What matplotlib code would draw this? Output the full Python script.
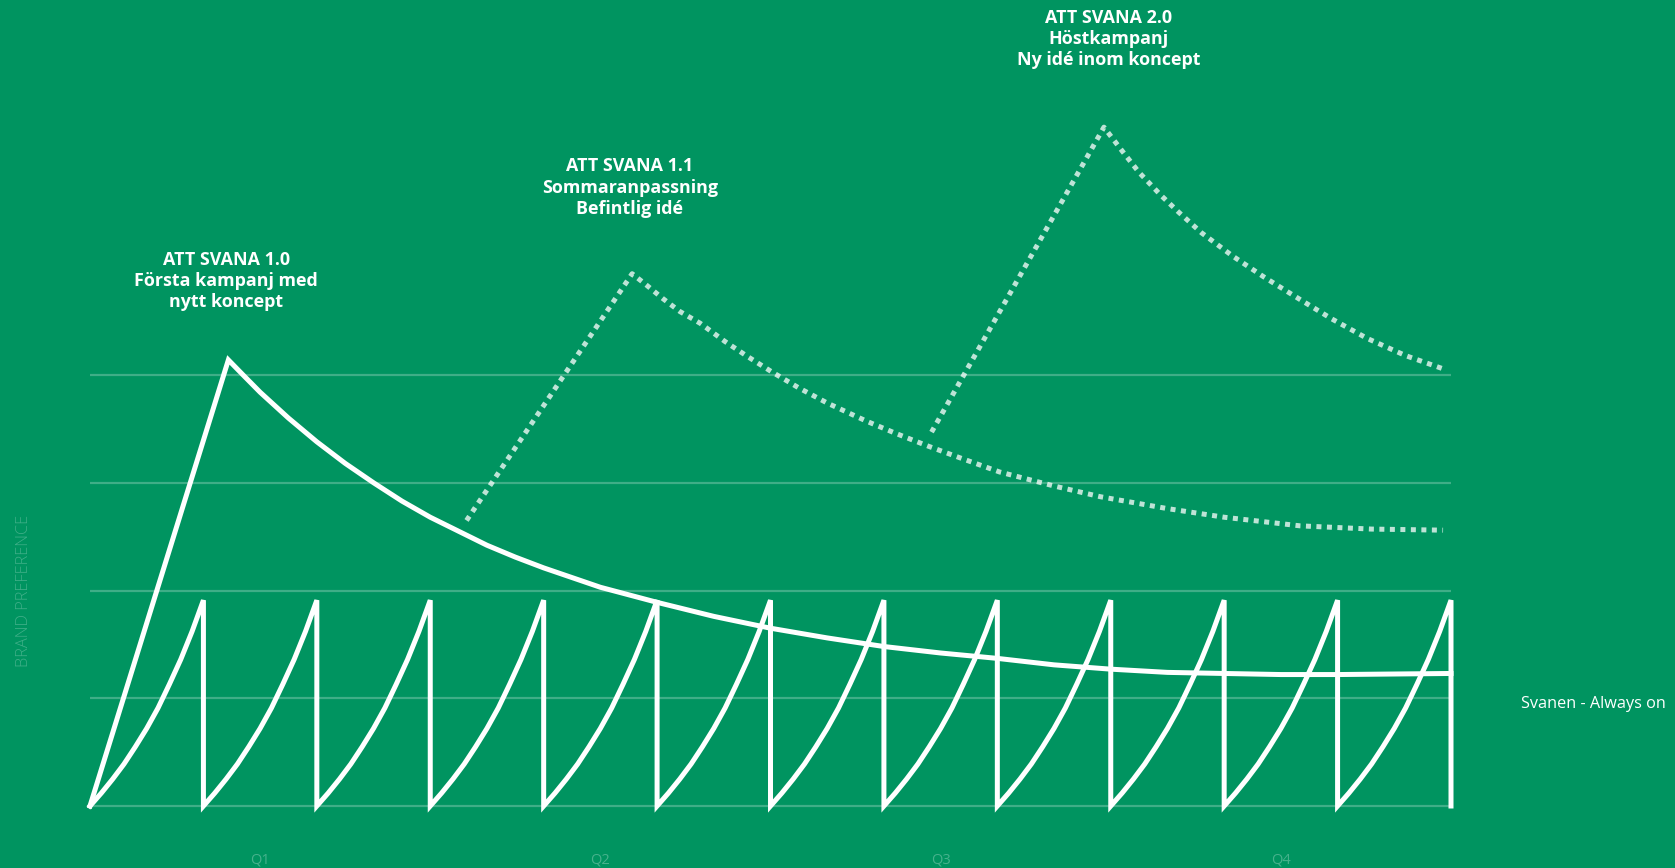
import matplotlib
matplotlib.use("Agg")
import matplotlib.pyplot as plt

# ---------------- data ----------------
n_months = 12
quarters = ["Q1", "Q2", "Q3", "Q4"]
quarter_pos = [1.5, 4.5, 7.5, 10.5]
grid_levels = [0, 1, 2, 3, 4]

# one "always on" tooth (fraction of month, level)
tooth_t = [0, 0.1, 0.2, 0.3, 0.4, 0.5, 0.6, 0.7, 0.8, 0.9, 1.0]
tooth_y = [0, 0.12, 0.25, 0.39, 0.55, 0.72, 0.91, 1.13, 1.36, 1.62, 1.91]

# ATT SVANA 1.0 (solid)
c10_x = [0, 1.22, 1.35, 1.5, 1.75, 2.0, 2.25, 2.5, 2.75, 3.0, 3.25, 3.5, 3.75,
         4.0, 4.5, 5.0, 5.5, 6.0, 6.5, 7.0, 7.5, 8.0, 8.5, 9.0, 9.5, 10.0,
         10.5, 11.0, 11.5, 12.0]
c10_y = [0, 4.14, 4.00, 3.84, 3.60, 3.38, 3.18, 3.00, 2.83, 2.68, 2.55, 2.42,
         2.31, 2.21, 2.03, 1.89, 1.76, 1.65, 1.56, 1.48, 1.42, 1.37, 1.31,
         1.27, 1.24, 1.23, 1.22, 1.22, 1.225, 1.23]

# ATT SVANA 1.1 (dotted)
c11_x = [3.32, 4.78, 4.9, 5.05, 5.2, 5.38, 5.6, 5.8, 6.01, 6.25, 6.5, 6.85,
         7.1, 7.39, 7.7, 8.02, 8.5, 8.91, 9.5, 10.0, 10.67, 11.3, 11.93]
c11_y = [2.65, 4.94, 4.84, 4.71, 4.59, 4.48, 4.31, 4.17, 4.03, 3.88, 3.74,
         3.57, 3.46, 3.34, 3.22, 3.10, 2.97, 2.87, 2.76, 2.68, 2.60, 2.57, 2.56]

# ATT SVANA 2.0 (dotted)
c20_x = [7.42, 8.94, 9.1, 9.25, 9.44, 9.6, 9.8, 10.08, 10.35, 10.67, 10.95,
         11.26, 11.6, 11.95]
c20_y = [3.47, 6.30, 6.08, 5.88, 5.67, 5.51, 5.32, 5.10, 4.91, 4.70, 4.52,
         4.34, 4.18, 4.05]

labels = [
    "ATT SVANA 1.0\nFörsta kampanj med\nnytt koncept",
    "ATT SVANA 1.1\nSommaranpassning\nBefintlig idé",
    "ATT SVANA 2.0\nHöstkampanj\nNy idé inom koncept",
]
label_x = [1.20, 4.76, 8.98]
label_y = [4.87, 5.74, 7.12]

always_on_label = "Svanen - Always on"
y_label = "BRAND PREFERENCE"

# ---------------- style ----------------
BG = "#009460"
FAINT = (1, 1, 1, 0.25)
DOT = (1, 1, 1, 0.75)

fig = plt.figure(figsize=(16.75, 8.68), dpi=100, facecolor=BG)
ax = fig.add_axes([90 / 1675, 62 / 868, 1361 / 1675, 7 * 107.75 / 868])
ax.set_facecolor(BG)
ax.set_xlim(0, n_months)
ax.set_ylim(0, 7)
for s in ax.spines.values():
    s.set_visible(False)
ax.set_xticks([])
ax.set_yticks([])

for g in grid_levels:
    ax.plot([0, n_months], [g, g], color=FAINT, lw=1.6, clip_on=False, zorder=1,
            solid_capstyle="butt")

# always-on saw teeth
sx, sy = [], []
for m in range(n_months):
    for t, v in zip(tooth_t, tooth_y):
        sx.append(m + t)
        sy.append(v)
    sx.append(m + 1)
    sy.append(0)
ax.plot(sx, sy, color="white", lw=3.6, clip_on=False, zorder=3,
        solid_joinstyle="miter")

ax.plot(c10_x, c10_y, color="white", lw=3.6, clip_on=False, zorder=3,
        solid_joinstyle="miter")

for cx, cy in [(c11_x, c11_y), (c20_x, c20_y)]:
    ax.plot(cx, cy, color=DOT, lw=3.6, clip_on=False, zorder=2,
            linestyle=(0, (1, 1.1)), dash_capstyle="butt")

for txt, x, y in zip(labels, label_x, label_y):
    ax.text(x, y, txt, ha="center", va="center", multialignment="center",
            color="white", fontsize=12.9, fontweight="bold", family="Open Sans",
            linespacing=1.22, clip_on=False)

for q, x in zip(quarters, quarter_pos):
    ax.text(x, -0.5, q, ha="center", va="center", color=(1, 1, 1, 0.28),
            fontsize=10.5, family="Open Sans", clip_on=False)

fig.text(1521 / 1675, 1 - 704 / 868, always_on_label, ha="left", va="center",
         color="white", fontsize=11.7, family="Open Sans")
fig.text(24 / 1675, 1 - 591 / 868, y_label, ha="center", va="center",
         rotation=90, color=FAINT, fontsize=11.8, family="Open Sans",
         fontweight="light")

fig.savefig("out.png", dpi=100, facecolor=BG)
